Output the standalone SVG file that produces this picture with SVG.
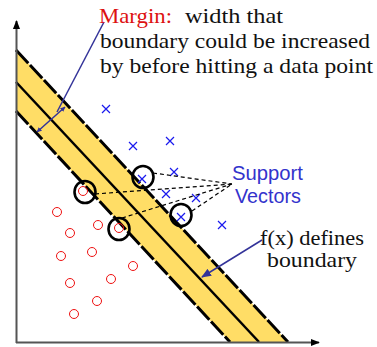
<svg xmlns="http://www.w3.org/2000/svg" width="377" height="347" viewBox="0 0 377 347">
<style>
.serif{font-family:"Liberation Serif","DejaVu Serif","Times New Roman",serif;font-size:21px;fill:#111}
.sans{font-family:"Liberation Sans",Arial,sans-serif;font-size:20px;fill:#3333CC}
.edge{stroke:#000;stroke-width:3;stroke-dasharray:18 2.5;fill:none}
.mid{stroke:#000;stroke-width:2.5;fill:none}
.sv{fill:none;stroke:#000;stroke-width:2.6}
.o{fill:none;stroke:#EE1111;stroke-width:1}
.x{stroke:#1a1aee;stroke-width:1.2;fill:none}
.dash{stroke:#000;stroke-width:1.2;stroke-dasharray:4 3;fill:none}
.lead{stroke:#333399;stroke-width:1.5;fill:none}
</style>
<defs>
<marker id="ah" viewBox="0 0 10 10" refX="9" refY="5" markerWidth="5" markerHeight="5" orient="auto-start-reverse" markerUnits="userSpaceOnUse">
<path d="M0,0L10,5L0,10z" fill="#333399"/>
</marker>
<marker id="ah2" viewBox="0 0 10 10" refX="9" refY="5" markerWidth="10" markerHeight="10" orient="auto" markerUnits="userSpaceOnUse">
<path d="M0,1L10,5L0,9z" fill="#333399"/>
</marker>
<marker id="ax" viewBox="0 0 10 10" refX="9" refY="5" markerWidth="9" markerHeight="9" orient="auto" markerUnits="userSpaceOnUse">
<path d="M0,1L10,5L0,9z" fill="#000"/>
</marker>
<path id="xm" d="M-4,-4L4,4M4,-4L-4,4"/>
</defs>

<g id="band">
<polygon points="16,50 288,342 230,342 16,111" fill="#FFDD66"/>
<line class="edge" x1="16" y1="50" x2="288" y2="342"/>
<line class="edge" x1="16" y1="111" x2="230" y2="342"/>
<line class="mid" x1="16" y1="82" x2="259" y2="342"/>
</g>

<g id="axes" stroke="#555" stroke-width="2">
<line x1="16.5" y1="343" x2="16.5" y2="21" marker-end="url(#ax)"/>
<line x1="16" y1="342.5" x2="319" y2="342.5" marker-end="url(#ax)"/>
</g>

<g id="negatives">
<circle class="o" cx="57" cy="212" r="4.5"/>
<circle class="o" cx="98" cy="225" r="4.5"/>
<circle class="o" cx="70" cy="233" r="4.5"/>
<circle class="o" cx="61" cy="256" r="4.5"/>
<circle class="o" cx="92" cy="252" r="4.5"/>
<circle class="o" cx="133" cy="266" r="4.5"/>
<circle class="o" cx="70" cy="283" r="4.5"/>
<circle class="o" cx="111" cy="279" r="4.5"/>
<circle class="o" cx="97" cy="301" r="4.5"/>
<circle class="o" cx="74" cy="314" r="4.5"/>
<circle class="o" cx="83" cy="191" r="4.5"/>
<circle class="o" cx="119" cy="228" r="4.5"/>
</g>

<g id="positives" class="x">
<use href="#xm" x="106" y="109"/>
<use href="#xm" x="133" y="146"/>
<use href="#xm" x="170" y="141"/>
<use href="#xm" x="174" y="172"/>
<use href="#xm" x="142" y="179"/>
<use href="#xm" x="166" y="194"/>
<use href="#xm" x="196" y="198"/>
<use href="#xm" x="222" y="225"/>
<use href="#xm" x="181" y="217"/>
</g>

<g id="support-vectors">
<ellipse class="sv" cx="143" cy="177" rx="10.5" ry="11"/>
<ellipse class="sv" cx="85" cy="192" rx="10.5" ry="11"/>
<ellipse class="sv" cx="119" cy="229" rx="10.5" ry="11"/>
<ellipse class="sv" cx="181" cy="215" rx="10.5" ry="11"/>
</g>

<g id="connectors">
<line class="dash" x1="153" y1="173" x2="232" y2="184"/>
<line class="dash" x1="95" y1="194" x2="232" y2="184"/>
<line class="dash" x1="122" y1="218" x2="232" y2="184"/>
<line class="dash" x1="192" y1="211" x2="232" y2="184"/>
<line class="lead" x1="37" y1="132" x2="65" y2="107" marker-start="url(#ah)" marker-end="url(#ah)"/>
<line class="lead" x1="104" y1="22" x2="57" y2="112" stroke-width="1.3"/>
<line class="lead" x1="262" y1="240" x2="202" y2="277" marker-end="url(#ah2)"/>
</g>

<g id="margin-label">
<text class="serif" x="99" y="23" textLength="73" lengthAdjust="spacingAndGlyphs" style="fill:#DD1111">Margin:</text>
<text class="serif" x="185" y="23" textLength="98" lengthAdjust="spacingAndGlyphs">width that</text>
<text class="serif" x="100" y="48" textLength="270" lengthAdjust="spacingAndGlyphs">boundary could be increased</text>
<text class="serif" x="100" y="73" textLength="273" lengthAdjust="spacingAndGlyphs">by before hitting a data point</text>
</g>

<g id="sv-label">
<text class="sans" x="232" y="180" textLength="71" lengthAdjust="spacingAndGlyphs">Support</text>
<text class="sans" x="235" y="203" textLength="66" lengthAdjust="spacingAndGlyphs">Vectors</text>
</g>

<g id="fx-label">
<text class="serif" x="260" y="245" textLength="104" lengthAdjust="spacingAndGlyphs">f(x) defines</text>
<text class="serif" x="267" y="267" textLength="90" lengthAdjust="spacingAndGlyphs">boundary</text>
</g>
</svg>
